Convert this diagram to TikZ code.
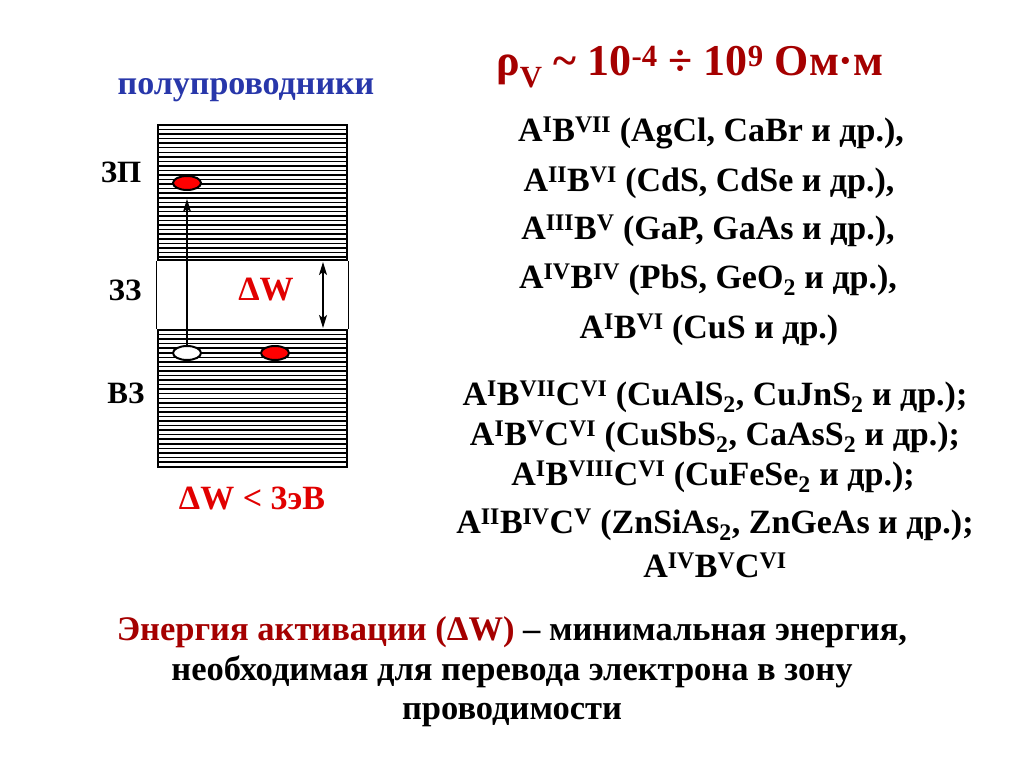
\documentclass[tikz,border=0pt]{standalone}
\usepackage{fontspec}
\setmainfont{Liberation Serif}
\usetikzlibrary{arrows.meta, positioning, shapes.geometric}
\definecolor{darkred}{RGB}{165,0,0}
\definecolor{brightred}{RGB}{225,0,0}
\definecolor{semiblue}{RGB}{40,55,170}
\newcommand{\cmp}[2]{#1\textsuperscript{#2}}
\newcommand{\sub}[1]{\textsubscript{#1}}

\begin{document}
\begin{tikzpicture}[
    x=1pt, y=-1pt,
    >={Stealth[length=13pt, width=8pt, inset=3pt]},
    band/.style={draw, line width=2.8pt, minimum width=189pt, inner sep=0pt,
      path picture={
        \foreach \k in {1,...,30} {
          \draw[line width=1.5pt] ([yshift=-\k*4.55pt]path picture bounding box.north west)
            -- ([yshift=-\k*4.55pt]path picture bounding box.north east);
        }
      }},
    particle/.style={ellipse, draw, line width=2pt, minimum width=28pt, minimum height=14pt, inner sep=0pt},
    zone/.style={font=\fontsize{31}{34}\selectfont\bfseries},
    formula/.style={font=\fontsize{34}{38}\selectfont\bfseries},
    gaplbl/.style={font=\fontsize{34}{38}\selectfont\bfseries, text=brightred},
    arr/.style={->, line width=1.8pt},
]
\useasboundingbox[fill=white] (0,0) rectangle (1024,767);
% ----- the band picture on the left
\node[font=\fontsize{34}{38}\selectfont\bfseries, text=semiblue] (title) at (246,90) {полупроводники};
\node[band, minimum height=135pt] (cb) at (252.5,192.5) {};
\node[band, minimum height=137pt] (vb) at (252.5,398.5) {};
\draw[line width=0.8pt] (cb.south west) -- (vb.north west);
\draw[line width=0.8pt] (cb.south east) -- (vb.north east);
\node[zone] (zp) at (121,172) {ЗП};
\node[zone] (zz) at (125,290) {ЗЗ};
\node[zone] (vz) at (126,393) {ВЗ};
\node[particle, fill=red] (el) at (187,183) {};
\node[particle, fill=white] (hole) at (187,353) {};
\node[particle, fill=red] (el2) at (275,353) {};
\draw[arr] (hole.north) -- ([yshift=-8pt]el.south);
\coordinate (gtop) at (323,262);
\coordinate (gbot) at (323,328);
\draw[<->, line width=1.5pt] (gtop) -- (gbot);
\node[gaplbl] (dw) at (266,290) {ΔW};
\node[gaplbl] (dwlt) at (252,498) {ΔW < 3эВ};
% ----- resistivity and the compounds on the right
\node[font=\fontsize{44}{48}\selectfont\bfseries, text=darkred] (rho) at (690,67)
  {ρ\textsubscript{V} \textasciitilde{} 10\textsuperscript{-4} ÷ 10\textsuperscript{9} Ом·м};
\node[formula] (f1) at (711,133) {\cmp{A}{I}\cmp{B}{VII} (AgCl, CaBr и др.),};
\node[formula] (f2) at (709,183) {\cmp{A}{II}\cmp{B}{VI} (CdS, CdSe и др.),};
\node[formula] (f3) at (708,231) {\cmp{A}{III}\cmp{B}{V} (GaP, GaAs и др.),};
\node[formula] (f4) at (708,280) {\cmp{A}{IV}\cmp{B}{IV} (PbS, GeO\sub{2} и др.),};
\node[formula] (f5) at (709,330) {\cmp{A}{I}\cmp{B}{VI} (CuS и др.)};
\node[formula] (g1) at (715,397) {\cmp{A}{I}\cmp{B}{VII}\cmp{C}{VI} (CuAlS\sub{2}, CuJnS\sub{2} и др.);};
\node[formula] (g2) at (715,437) {\cmp{A}{I}\cmp{B}{V}\cmp{C}{VI} (CuSbS\sub{2}, CaAsS\sub{2} и др.);};
\node[formula] (g3) at (713,477) {\cmp{A}{I}\cmp{B}{VIII}\cmp{C}{VI} (CuFeSe\sub{2} и др.);};
\node[formula] (g4) at (715,525) {\cmp{A}{II}\cmp{B}{IV}\cmp{C}{V} (ZnSiAs\sub{2}, ZnGeAs и др.);};
\node[formula] (g5) at (715,565) {\cmp{A}{IV}\cmp{B}{V}\cmp{C}{VI}};
% ----- the definition at the bottom
\node[font=\fontsize{34.5}{39.5}\selectfont\bfseries, align=center] (def) at (512,672)
  {\textcolor{darkred}{Энергия активации (ΔW)} – минимальная энергия,\\
   необходимая для перевода электрона в зону\\ проводимости};
\end{tikzpicture}
\end{document}
